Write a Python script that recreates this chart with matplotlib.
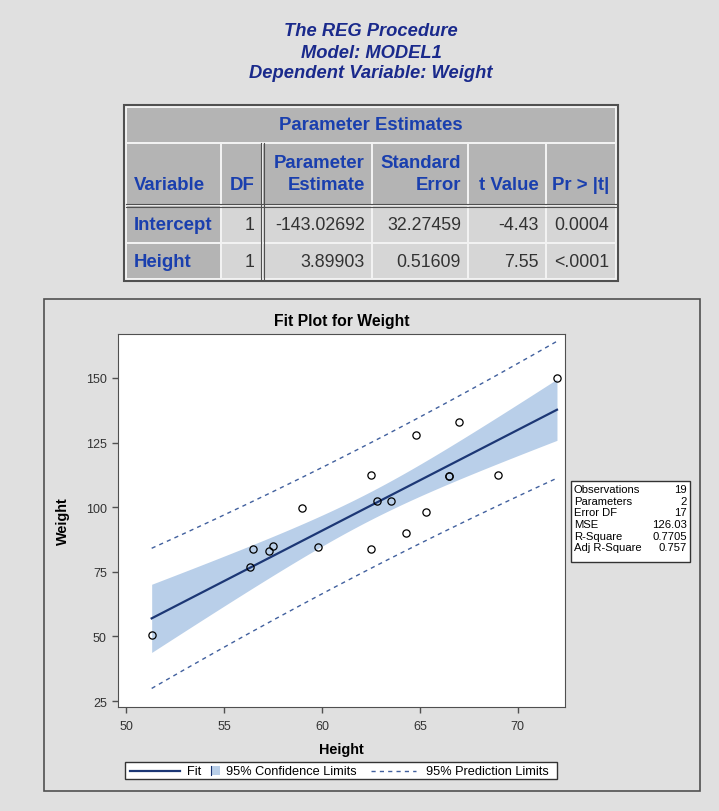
#!/usr/bin/env python3
''' PROC REG style output: parameter table and fit plot '''
import numpy as np
import matplotlib.pyplot as plt
from matplotlib.patches import Rectangle
from matplotlib.lines import Line2D

plt.rcParams['font.family'] = ['Liberation Sans', 'DejaVu Sans']

# sashelp.class
height = [69.0, 56.5, 65.3, 62.8, 63.5, 57.3, 59.8, 62.5, 62.5, 59.0,
          51.3, 64.3, 56.3, 66.5, 72.0, 64.8, 67.0, 57.5, 66.5]
weight = [112.5, 84.0, 98.0, 102.5, 102.5, 83.0, 84.5, 112.5, 84.0, 99.5,
          50.5, 90.0, 77.0, 112.0, 150.0, 128.0, 133.0, 85.0, 112.0]

titles = ['The REG Procedure', 'Model: MODEL1', 'Dependent Variable: Weight']
col_heads = [['Variable'], ['DF'], ['Parameter', 'Estimate'],
             ['Standard', 'Error'], ['t Value'], ['Pr > |t|']]
rows = [['Intercept', '1', '-143.02692', '32.27459', '-4.43', '0.0004'],
        ['Height', '1', '3.89903', '0.51609', '7.55', '<.0001']]
stats_labels = ['Observations', 'Parameters', 'Error DF', 'MSE',
                'R-Square', 'Adj R-Square']
stats_values = ['19', '2', '17', '126.03', '0.7705', '0.757']

BG = '#e0e0e0'
HEAD = '#b4b4b4'
CELL = '#d6d6d6'
BLUE_TXT = '#1a3fae'
TITLE_TXT = '#1a2a8c'
BAND = '#b9cfe9'
FIT = '#1c3775'
PRED = '#41609e'

W, H = 719, 812
fig = plt.figure(figsize=(W / 100, H / 100), dpi=100, facecolor=BG)

# pixel overlay for tables, boxes, legend
ov = fig.add_axes([0, 0, 1, 1])
ov.set_xlim(0, W)
ov.set_ylim(H, 0)
ov.axis('off')

for i, t in enumerate(titles):
    ov.text(371, 32 + 21 * i, t, ha='center', va='center', fontsize=13.2,
            fontweight='bold', fontstyle='italic', color=TITLE_TXT)

# parameter table
cx = [126, 221, 262, 372, 468, 546, 616]
ry = [108, 144, 206, 244, 280]
ov.add_patch(Rectangle((124, 106), 494, 176, fc='#f2f2f2', ec='#505050', lw=1.5))
ov.add_patch(Rectangle((cx[0] + 1, ry[0] + 1), cx[-1] - cx[0] - 2,
                       ry[1] - ry[0] - 2, fc=HEAD, ec='none'))
ov.text((cx[0] + cx[-1]) / 2, 126, 'Parameter Estimates', ha='center',
        va='center', fontsize=13.4, fontweight='bold', color=BLUE_TXT)
for j in range(6):
    x0, x1 = cx[j], cx[j + 1]
    ov.add_patch(Rectangle((x0 + 1, ry[1] + 1), x1 - x0 - 2, ry[2] - ry[1] - 2,
                           fc=HEAD, ec='none'))
    lines = col_heads[j]
    if j == 0:
        xt, ha = x0 + 8, 'left'
    else:
        xt, ha = x1 - 7, 'right'
    for k, s in enumerate(lines):
        yt = 185 - 22 * (len(lines) - 1 - k)
        ov.text(xt, yt, s, ha=ha, va='center', fontsize=13.4,
                fontweight='bold', color=BLUE_TXT)
    for r in range(2):
        y0, y1 = ry[r + 2], ry[r + 3]
        fc = HEAD if j == 0 else CELL
        ov.add_patch(Rectangle((x0 + 1, y0 + 1), x1 - x0 - 2, y1 - y0 - 2,
                               fc=fc, ec='none'))
        yc = (y0 + y1) / 2 + 1
        if j == 0:
            ov.text(xt, yc, rows[r][j], ha='left', va='center', fontsize=13.4,
                    fontweight='bold', color=BLUE_TXT)
        else:
            ov.text(xt, yc, rows[r][j], ha='right', va='center', fontsize=12.8,
                    color='#333333')
# double rules
for xx in (cx[2] - 1.5, cx[2] + 1.5):
    ov.plot([xx, xx], [ry[1], ry[-1]], color='#505050', lw=0.8)
for yy in (ry[2] - 1.5, ry[2] + 1.5):
    ov.plot([cx[0], cx[-1]], [yy, yy], color='#505050', lw=0.8)

# plot panel border
ov.add_patch(Rectangle((44, 300), 656, 492, fc='none', ec='#505050', lw=1.2))
ov.text(342, 322, 'Fit Plot for Weight', ha='center', va='center',
        fontsize=11.3, fontweight='bold')
ov.text(341, 750, 'Height', ha='center', va='center', fontsize=10.4,
        fontweight='bold')
ov.text(63, 521, 'Weight', ha='center', va='center', fontsize=10.4,
        fontweight='bold', rotation=90)

# regression
x = np.array(height)
y = np.array(weight)
n = len(x)
b1, b0 = np.polyfit(x, y, 1)
resid = y - (b0 + b1 * x)
mse = np.sum(resid ** 2) / (n - 2)
sxx = np.sum((x - x.mean()) ** 2)
tq = 2.109816
xs = np.linspace(x.min(), x.max(), 200)
fit = b0 + b1 * xs
se_m = np.sqrt(mse * (1 / n + (xs - x.mean()) ** 2 / sxx))
se_p = np.sqrt(mse * (1 + 1 / n + (xs - x.mean()) ** 2 / sxx))

ax = fig.add_axes([118 / W, 1 - 708 / H, (565 - 118) / W, (708 - 335) / H])
ax.fill_between(xs, fit - tq * se_m, fit + tq * se_m, color=BAND, lw=0)
ax.plot(xs, fit, color=FIT, lw=1.6)
ax.plot(xs, fit - tq * se_p, color=PRED, lw=1, ls=(0, (3, 3)))
ax.plot(xs, fit + tq * se_p, color=PRED, lw=1, ls=(0, (3, 3)))
ax.plot(x, y, 'o', mfc='none', mec='black', ms=5.2, mew=0.9)
ax.set_xlim(49.58, 72.41)
ax.set_ylim(22.7, 167.0)
ax.set_xticks([50, 55, 60, 65, 70])
ax.set_yticks([25, 50, 75, 100, 125, 150])
ax.tick_params(labelsize=9, length=4.5, width=1, color='#505050',
               labelcolor='#333333')
ax.tick_params(axis='x', pad=5)
ax.tick_params(axis='y', pad=3.5)
for sp in ax.spines.values():
    sp.set_color('#505050')

# statistics box
ov.add_patch(Rectangle((571, 482), 119, 81, fc='white', ec='#333333', lw=1))
for i, (lab, val) in enumerate(zip(stats_labels, stats_values)):
    yy = 490 + 11.7 * i
    ov.text(574, yy, lab, ha='left', va='center', fontsize=8.1)
    ov.text(687, yy, val, ha='right', va='center', fontsize=8.1)

# legend
ov.add_patch(Rectangle((125, 763), 432, 17, fc='white', ec='#333333', lw=1))
ov.add_line(Line2D([130, 180], [771.5, 771.5], color=FIT, lw=1.6))
ov.text(187, 772, 'Fit', ha='left', va='center', fontsize=9.2)
ov.add_patch(Rectangle((211, 767), 9, 9, fc=BAND, ec='none'))
ov.add_line(Line2D([210.5, 210.5], [767, 776], color=FIT, lw=0.8))
ov.text(226, 772, '95% Confidence Limits', ha='left', va='center', fontsize=9.2)
ov.add_line(Line2D([371, 416], [771.5, 771.5], color=PRED, lw=1,
                   ls=(0, (3, 3))))
ov.text(426, 772, '95% Prediction Limits', ha='left', va='center', fontsize=9.2)

fig.savefig('out.png', dpi=100, facecolor=BG)
